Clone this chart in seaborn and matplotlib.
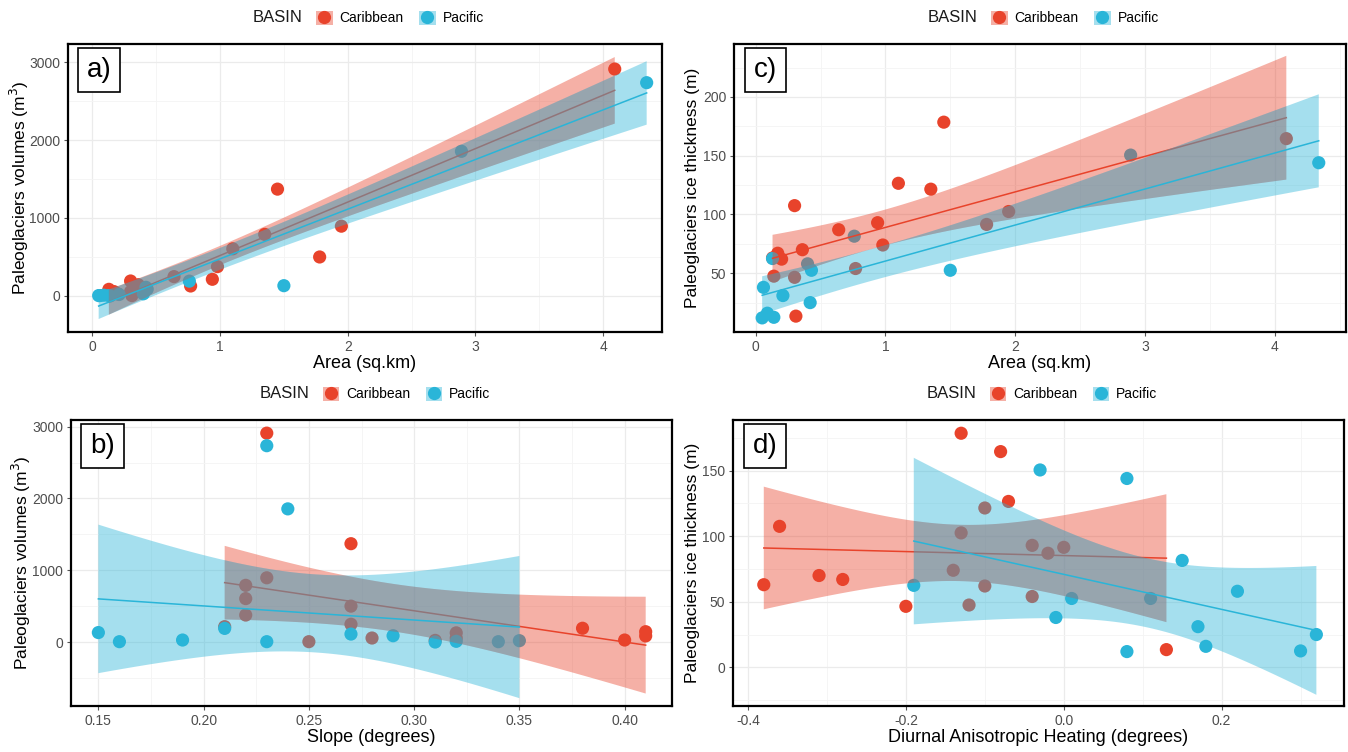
import math
import numpy as np
import pandas as pd
import matplotlib
matplotlib.use("Agg")
import matplotlib.pyplot as plt
import seaborn as sns
from matplotlib.collections import PolyCollection
from matplotlib.lines import Line2D
from matplotlib.patches import Patch
from matplotlib.legend_handler import HandlerTuple
from matplotlib.ticker import AutoMinorLocator, FormatStrFormatter

# paleoglacier data, one entry per glacier
carib_area = [0.13, 0.14, 0.17, 0.20, 0.30, 0.30, 0.31, 0.36, 0.64, 0.77, 0.94, 0.98, 1.10, 1.35, 1.45, 1.78, 1.95, 4.09]
carib_volume = [85, 23, 56, 28, 56, 192, 5, 144, 248, 128, 214, 376, 605, 790, 1370, 500, 895, 2910]
carib_thickness = [63, 47.5, 67, 62, 46.5, 107.5, 13.5, 70, 87, 54, 93, 74, 126.5, 121.5, 178.5, 91.5, 102.5, 164.5]
carib_slope = [0.41, 0.31, 0.32, 0.40, 0.28, 0.38, 0.25, 0.41, 0.27, 0.32, 0.21, 0.22, 0.22, 0.22, 0.27, 0.27, 0.23, 0.23]
carib_dah = [-0.38, -0.12, -0.28, -0.10, -0.20, -0.36, 0.13, -0.31, -0.02, -0.04, -0.04, -0.14, -0.07, -0.10, -0.13, 0.00, -0.13, -0.08]

pacific_area = [0.05, 0.06, 0.09, 0.13, 0.14, 0.21, 0.40, 0.42, 0.43, 0.76, 1.50, 2.89, 4.34]
pacific_volume = [5, 5, 10, 5, 0, 19, 28, 111, 88, 190, 132, 1855, 2735]
pacific_thickness = [12, 38, 16, 62.5, 12.5, 31, 58, 25, 52.5, 81.5, 52.5, 150.5, 144]
pacific_slope = [0.23, 0.34, 0.32, 0.16, 0.31, 0.35, 0.19, 0.27, 0.29, 0.21, 0.15, 0.24, 0.23]
pacific_dah = [0.08, -0.01, 0.18, -0.19, 0.30, 0.17, 0.22, 0.32, 0.01, 0.15, 0.11, -0.03, 0.08]

carib = pd.DataFrame({"area": carib_area, "volume": carib_volume, "thickness": carib_thickness,
                      "slope": carib_slope, "dah": carib_dah, "BASIN": "Caribbean"})
pacific = pd.DataFrame({"area": pacific_area, "volume": pacific_volume, "thickness": pacific_thickness,
                        "slope": pacific_slope, "dah": pacific_dah, "BASIN": "Pacific"})
df = pd.concat([carib, pacific], ignore_index=True)

colors = {"Caribbean": "#E8432B", "Pacific": "#2AB5D8"}
band_alpha = 0.42


def t_quantile(p, dof):
    xs = np.linspace(0, 12, 24001)
    c = math.gamma((dof + 1) / 2) / (math.sqrt(dof * math.pi) * math.gamma(dof / 2))
    pdf = c * (1 + xs ** 2 / dof) ** (-(dof + 1) / 2)
    cdf = 0.5 + np.concatenate([[0], np.cumsum((pdf[1:] + pdf[:-1]) / 2 * np.diff(xs))])
    return np.interp(p, cdf, xs)


def lm_band(x, y, n_grid=100):
    # 95% confidence band of a linear fit (standard error, like geom_smooth(method="lm"))
    x = np.asarray(x, float)
    y = np.asarray(y, float)
    n = len(x)
    b1, b0 = np.polyfit(x, y, 1)
    resid = y - (b0 + b1 * x)
    s = np.sqrt(np.sum(resid ** 2) / (n - 2))
    sxx = np.sum((x - x.mean()) ** 2)
    grid = np.linspace(x.min(), x.max(), n_grid)
    fit = b0 + b1 * grid
    se = s * np.sqrt(1 / n + (grid - x.mean()) ** 2 / sxx)
    t = t_quantile(0.975, n - 2)
    return grid, fit - t * se, fit + t * se


plt.rcParams["axes.unicode_minus"] = False
plt.rcParams["font.family"] = ["Liberation Sans", "DejaVu Sans"]

fig = plt.figure(figsize=(13.48, 7.52), dpi=100)


def px_axes(l, t, r, b):
    return fig.add_axes([l / 1348, 1 - b / 752, (r - l) / 1348, (b - t) / 752])


panels = [
    dict(rect=(68, 44, 662, 332), x="area", y="volume", tag="a)", xlabel="Area (sq.km)",
         ylabel="Paleoglaciers volumes (m$^3$)", xlim=(-0.19, 4.46), ylim=(-462, 3231),
         xticks=[0, 1, 2, 3, 4], yticks=[0, 1000, 2000, 3000], xfmt="%g", ylab_x=31),
    dict(rect=(71, 420, 672, 706), x="slope", y="volume", tag="b)", xlabel="Slope (degrees)",
         ylabel="Paleoglaciers volumes (m$^3$)", xlim=(0.137, 0.4225), ylim=(-891, 3093),
         xticks=[0.15, 0.20, 0.25, 0.30, 0.35, 0.40], yticks=[0, 1000, 2000, 3000], xfmt="%.2f",
         ylab_x=33),
    dict(rect=(734, 44, 1346, 332), x="area", y="thickness", tag="c)", xlabel="Area (sq.km)",
         ylabel="Paleoglaciers ice thickness (m)", xlim=(-0.167, 4.55), ylim=(0, 245),
         xticks=[0, 1, 2, 3, 4], yticks=[50, 100, 150, 200], xfmt="%g", ylab_x=700),
    dict(rect=(733, 420, 1344, 706), x="dah", y="thickness", tag="d)",
         xlabel="Diurnal Anisotropic Heating (degrees)",
         ylabel="Paleoglaciers ice thickness (m)", xlim=(-0.419, 0.355), ylim=(-29.5, 188.6),
         xticks=[-0.4, -0.2, 0.0, 0.2], yticks=[0, 50, 100, 150], xfmt="%.1f", ylab_x=700),
]

for p in panels:
    l, t, r, b = p["rect"]
    ax = px_axes(l, t, r, b)
    sns.scatterplot(data=df, x=p["x"], y=p["y"], hue="BASIN", palette=colors, s=90,
                    linewidth=0, legend=False, ax=ax, zorder=2)

    bands = {}
    for basin in ["Caribbean", "Pacific"]:
        sub = df[df.BASIN == basin]
        sns.regplot(data=sub, x=p["x"], y=p["y"], scatter=False, ci=None,
                    color=colors[basin], line_kws=dict(lw=1.1), ax=ax)
        ax.lines[-1].set_zorder(4 if basin == "Caribbean" else 7)
        gx, lo, hi = lm_band(sub[p["x"]], sub[p["y"]])
        bands[basin] = ax.fill_between(gx, lo, hi, facecolor=colors[basin], alpha=band_alpha,
                                       lw=0, zorder=3 if basin == "Caribbean" else 5)

    # grey tint where the two confidence bands overlap
    overlap = PolyCollection([pp.vertices for pp in bands["Pacific"].get_paths()],
                             facecolor="#80808E", alpha=0.25, edgecolor="none", zorder=6)
    ax.add_collection(overlap)
    overlap.set_clip_path(bands["Caribbean"].get_paths()[0], ax.transData)

    ax.set_xlim(p["xlim"])
    ax.set_ylim(p["ylim"])
    ax.set_xticks(p["xticks"])
    ax.set_yticks(p["yticks"])
    ax.xaxis.set_major_formatter(FormatStrFormatter(p["xfmt"]))
    ax.xaxis.set_minor_locator(AutoMinorLocator(2))
    ax.yaxis.set_minor_locator(AutoMinorLocator(2))
    ax.grid(which="major", color="#EBEBEB", lw=0.9, zorder=0)
    ax.grid(which="minor", color="#F4F4F4", lw=0.6, zorder=0)
    ax.set_axisbelow(True)
    ax.tick_params(which="major", length=3, width=0.8, color="#555555",
                   labelcolor="#4D4D4D", labelsize=10, pad=2.5)
    ax.tick_params(which="minor", length=0)
    for s in ax.spines.values():
        s.set_color("black")
        s.set_linewidth(1.6)
    ax.set_xlabel(p["xlabel"], fontsize=13, labelpad=1)
    ax.set_ylabel(p["ylabel"], fontsize=12.5)
    ax.yaxis.set_label_coords((p["ylab_x"] - l) / (r - l), 0.5)

    ax.text(0.052, 0.91, p["tag"], transform=ax.transAxes, fontsize=20, ha="center", va="center",
            zorder=10, bbox=dict(boxstyle="square,pad=0.32", fc="white", ec="black", lw=1.2))

    # legend strip above each panel
    w = r - l
    yleg = 1 + 26 / (b - t)
    ax.text(0.5 + 6 / w - 118 / w, yleg, "BASIN", transform=ax.transAxes, fontsize=12,
            ha="left", va="center", color="#1A1A1A")
    handles = [(Patch(facecolor=colors[k], alpha=band_alpha, edgecolor="none"),
                Line2D([], [], marker="o", color=colors[k], ls="", ms=8.5)) for k in colors]
    ax.legend(handles, list(colors), handler_map={tuple: HandlerTuple(ndivide=1)},
              loc="center left", bbox_to_anchor=(0.5 + 6 / w - 55 / w, yleg), ncol=2,
              frameon=False, fontsize=10, handlelength=1.2, handleheight=1.2,
              handletextpad=0.5, columnspacing=1.1, borderpad=0, borderaxespad=0)

fig.savefig("out.png", dpi=100)
